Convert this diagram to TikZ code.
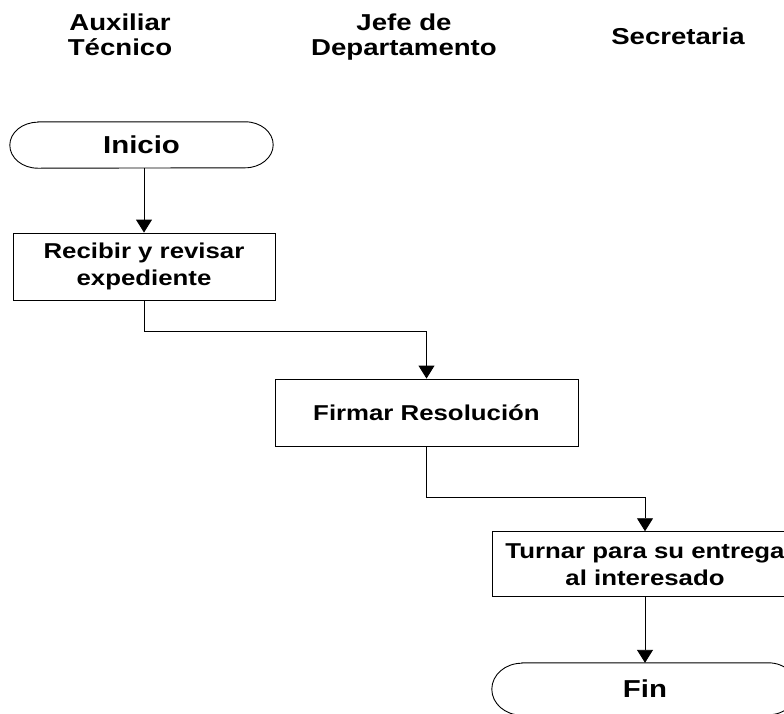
\documentclass[tikz,border=0pt]{standalone}
\usepackage{fontspec}
\setmainfont{Liberation Sans}[FakeStretch=1.2]
\usetikzlibrary{arrows.meta}
\begin{document}
\begin{tikzpicture}[x=1pt,y=-1pt,
  lbl/.style={font=\fontsize{23}{25}\selectfont\bfseries, align=center, inner sep=0pt},
  box/.style={draw, line width=0.9pt, inner sep=0pt, align=center, font=\fontsize{21.5}{27}\selectfont\bfseries},
  term/.style={inner sep=0pt, font=\fontsize{24.5}{26}\selectfont\bfseries},
  conn/.style={line width=0.9pt},
  arr/.style={conn, -{Triangle[width=16pt,length=13pt]}}]
\clip (0,0) rectangle (784,713);
% lane headers
\node[lbl] (h1) at (120,35) {Auxiliar\\Técnico};
\node[lbl] (h2) at (404,37) {Jefe de\\Departamento};
\node[lbl] (h3) at (678,36.5) {Secretaria};
% start terminator
\node[term, minimum width=263pt, minimum height=46pt] (ini) at (141.5,145) {Inicio};
\draw[conn] ([xshift=28pt]ini.north west) -- ([xshift=-28pt]ini.north east)
  arc[start angle=90, end angle=-90, x radius=28pt, y radius=23pt]
  -- ([xshift=28pt]ini.south west)
  arc[start angle=270, end angle=90, x radius=28pt, y radius=23pt] -- cycle;
% process boxes
\node[box, minimum width=262pt, minimum height=67pt] (rec) at (144,266.5) {Recibir y revisar\\expediente};
\node[box, minimum width=303pt, minimum height=67pt] (fir) at (426.5,412.5) {Firmar Resolución};
\node[box, minimum width=306pt, minimum height=65pt] (tur) at (645,564.2) {Turnar para su entrega\\al interesado};
% end terminator
\node[term, minimum width=306pt, minimum height=52pt] (fin) at (645,689) {Fin};
\draw[conn] ([xshift=30pt]fin.north west) -- ([xshift=-30pt]fin.north east)
  arc[start angle=90, end angle=-90, x radius=30pt, y radius=26pt]
  -- ([xshift=30pt]fin.south west)
  arc[start angle=270, end angle=90, x radius=30pt, y radius=26pt] -- cycle;
% connectors
\draw[arr] (rec.north |- ini.south) -- (rec.north);
\draw[arr] (rec.south) -- ++(0,31) -| (fir.north);
\draw[arr] (fir.south) -- ++(0,51) -| (tur.north);
\draw[arr] (tur.south) -- (fin.north);
\end{tikzpicture}
\end{document}
